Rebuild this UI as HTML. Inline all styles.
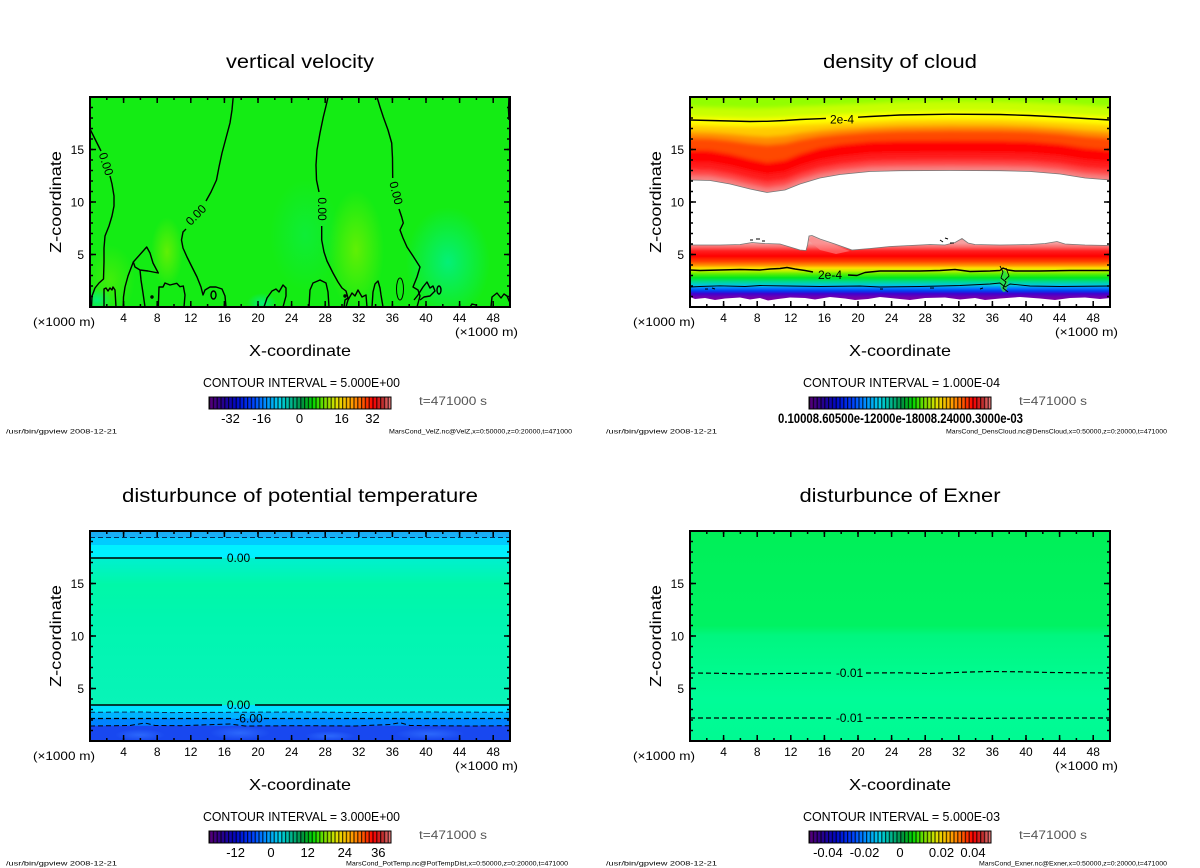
<!DOCTYPE html>
<html><head><meta charset="utf-8"><style>
html,body{margin:0;padding:0;background:#fff;}
svg{display:block;}
text{font-family:"Liberation Sans",sans-serif;fill:#000;}
</style></head><body>
<svg width="1200" height="868" viewBox="0 0 1200 868" xmlns="http://www.w3.org/2000/svg">
<defs>
<linearGradient id="cb" x1="0" x2="1" y1="0" y2="0">
 <stop offset="0" stop-color="#5a0078"/>
 <stop offset="0.07" stop-color="#28008c"/>
 <stop offset="0.15" stop-color="#0008c8"/>
 <stop offset="0.24" stop-color="#0040ff"/>
 <stop offset="0.32" stop-color="#0098ff"/>
 <stop offset="0.39" stop-color="#00d0e8"/>
 <stop offset="0.45" stop-color="#00b890"/>
 <stop offset="0.51" stop-color="#009040"/>
 <stop offset="0.57" stop-color="#00d800"/>
 <stop offset="0.64" stop-color="#80e000"/>
 <stop offset="0.70" stop-color="#e0e000"/>
 <stop offset="0.77" stop-color="#ffb000"/>
 <stop offset="0.84" stop-color="#ff6000"/>
 <stop offset="0.90" stop-color="#ff0000"/>
 <stop offset="0.95" stop-color="#c02828"/>
 <stop offset="1" stop-color="#e88080"/>
</linearGradient>
<pattern id="st" patternUnits="userSpaceOnUse" width="3.8" height="20"><rect width="1.2" height="20" fill="#000" fill-opacity="0.75"/></pattern>
<radialGradient id="gY"><stop offset="0" stop-color="#7af000" stop-opacity="0.75"/><stop offset="1" stop-color="#7af000" stop-opacity="0"/></radialGradient>
<radialGradient id="gC"><stop offset="0" stop-color="#00f090" stop-opacity="0.8"/><stop offset="1" stop-color="#00f090" stop-opacity="0"/></radialGradient>
<radialGradient id="gB"><stop offset="0" stop-color="#3070ff" stop-opacity="0.8"/><stop offset="1" stop-color="#3070ff" stop-opacity="0"/></radialGradient>
<linearGradient id="gLow" gradientUnits="userSpaceOnUse" x1="0" y1="243" x2="0" y2="300">
 <stop offset="0" stop-color="#f5a0a0"/>
 <stop offset="0.07" stop-color="#fa6a6a"/>
 <stop offset="0.14" stop-color="#ff2020"/>
 <stop offset="0.23" stop-color="#ff0000"/>
 <stop offset="0.32" stop-color="#ff4000"/>
 <stop offset="0.39" stop-color="#ff9000"/>
 <stop offset="0.44" stop-color="#ffe000"/>
 <stop offset="0.49" stop-color="#c0f000"/>
 <stop offset="0.54" stop-color="#60f000"/>
 <stop offset="0.61" stop-color="#00e820"/>
 <stop offset="0.68" stop-color="#00d890"/>
 <stop offset="0.74" stop-color="#00c8e0"/>
 <stop offset="0.79" stop-color="#0080ff"/>
 <stop offset="0.84" stop-color="#0040f0"/>
 <stop offset="0.89" stop-color="#4000d0"/>
 <stop offset="0.95" stop-color="#7000b0"/>
 <stop offset="1" stop-color="#8000a0"/>
</linearGradient>
<linearGradient id="gPT" gradientUnits="userSpaceOnUse" x1="0" y1="558" x2="0" y2="705">
 <stop offset="0" stop-color="#00f0d0"/>
 <stop offset="0.18" stop-color="#00f8a8"/>
 <stop offset="0.42" stop-color="#00f6b0"/>
 <stop offset="1" stop-color="#08f4b8"/>
</linearGradient>
<linearGradient id="gEx" gradientUnits="userSpaceOnUse" x1="0" y1="531" x2="0" y2="741">
 <stop offset="0" stop-color="#00f058"/>
 <stop offset="0.45" stop-color="#00f262"/>
 <stop offset="0.5" stop-color="#00f680"/>
 <stop offset="0.67" stop-color="#00fa8e"/>
 <stop offset="0.8" stop-color="#00fc98"/>
 <stop offset="1" stop-color="#00fa92"/>
</linearGradient>
<clipPath id="cp1"><rect x="90" y="97" width="420" height="210"/></clipPath>
<clipPath id="cp2"><rect x="690" y="97" width="420" height="210"/></clipPath>
<clipPath id="cp3"><rect x="90" y="531" width="420" height="210"/></clipPath>
<clipPath id="cp4"><rect x="690" y="531" width="420" height="210"/></clipPath>
<clipPath id="cpTop"><path d="M690,97 L1110,97 L1110,180 L1085,178 L1060,174 L1030,171.5 L1000,170.7 L950,170.5 L900,170.7 L870,171.5 L840,174.5 L820,178 L800,184 L785,190 L767,192.5 L750,189 L730,184 L710,180.5 L690,180 Z"/></clipPath>
<filter id="bl" x="-10%" y="-30%" width="120%" height="160%"><feGaussianBlur stdDeviation="2"/></filter>
</defs>

<!-- ================= PANEL 1 FIELD ================= -->
<g clip-path="url(#cp1)">
<rect x="90" y="97" width="420" height="210" fill="#14ec14"/>
<ellipse cx="356" cy="250" rx="28" ry="60" fill="url(#gY)"/>
<ellipse cx="167" cy="252" rx="16" ry="35" fill="url(#gY)"/>
<ellipse cx="110" cy="280" rx="25" ry="35" fill="url(#gY)" opacity="0.6"/>
<ellipse cx="448" cy="262" rx="42" ry="55" fill="url(#gC)"/>
<ellipse cx="97" cy="300" rx="15" ry="12" fill="url(#gC)"/>
<ellipse cx="262" cy="303" rx="15" ry="10" fill="url(#gC)"/>
<ellipse cx="305" cy="235" rx="35" ry="55" fill="url(#gC)" opacity="0.35"/>
<g fill="none" stroke="#000" stroke-width="1.4" stroke-linejoin="round">
<path d="M90,129 L94,137 L98,145 L101,151"/>
<path d="M110,176 L112,184 L114,196 L114,206 L112,216 L109,226 L105,236 L104,248 L104,262 L103.5,279 L99,283 L95,288 L92,296 L91.5,307"/>
<path d="M233.3,96 L232,110 L230,123 L226,138 L222,153 L219,167 L216.5,180 L211,192 L206,201"/>
<path d="M186,229 L183,232 L181.5,240 L183,248 L187,257 L192,267 L197,277 L201,287 L203,295 L205,290 L210,287 L216,287 L222,289 L225,296 L226,307"/>
<ellipse cx="213.5" cy="295" rx="2.5" ry="4"/>
<path d="M328.3,96 L326,106 L323.3,117 L320,133 L317,150 L316,165 L316.5,180 L319,192"/>
<path d="M321.7,226 L321.7,240 L324,252 L327,261 L333,273 L338,282 L342,288 L346,291 L348,298 L345,300 L344,307"/>
<path d="M376.7,96 L380,107 L383.3,117 L388,130 L391.7,143 L392.5,158 L392.7,178"/>
<path d="M399,209 L401.7,217 L403.3,223 L400,230 L403,238 L407,247 L413,256 L420,267 L417,277 L413,287 L418,290 L420,296 L417,307"/>
<path d="M509,96 L508.5,110 L509,120"/>
<path d="M104,307 L104,289 L106,288 L108,291 L110,288 L112,290 L113,287 L115,290 L116,307"/>
<path d="M133.3,262 L146.7,247 L150,253 L153,263 L158.3,273 L148,271 L140,270 L135,267 Z"/>
<path d="M133.3,262 L128,276 L125,287 L123.5,297 L123.3,307"/>
<path d="M140,270 L141,280 L143,293 L145,307"/>
<path d="M158.3,307 L159,287 L163,287 L165,283 L170,285 L176.7,283.3 L180,286.7 L183.3,286 L185,295 L184,307"/>
<path d="M264,307 L267,298 L272,291 L276,289 L279,292 L283,285 L286,288 L286,296 L283,307"/>
<path d="M309,307 L310,290 L313,283 L320,280 L326,283 L328,292 L329,307"/>
<path d="M346,307 L348,300 L352,293 L355,296 L358,290 L362,297 L366,295 L367,307"/>
<path d="M372,307 L373,292 L375,284 L378,281 L380,288 L381,295 L383,307"/>
<ellipse cx="400" cy="289" rx="3.5" ry="11" stroke-width="1"/>
<path d="M414,300 L418,295 L423,287 L427,282 L430,288 L433,286 L435,291 L430,296 L424,297 L420,300"/>
<ellipse cx="439" cy="290" rx="2" ry="4"/>
<path d="M491,307 L492,297 L497,293 L501,298 L504,294 L507,296 L510,303"/>
<path d="M470,307 L472,304 L476,305 L477,307"/>
<circle cx="152" cy="297" r="1"/>
<circle cx="345" cy="296" r="1"/>
</g>
<g font-size="12" text-anchor="middle">
<text transform="translate(106,164) rotate(72)" y="4">0.00</text>
<text transform="translate(196,215) rotate(-45)" y="4">0.00</text>
<text transform="translate(322,209) rotate(90)" y="4">0.00</text>
<text transform="translate(396,193) rotate(76)" y="4">0.00</text>
</g>
</g>

<!-- ================= PANEL 2 FIELD ================= -->
<g clip-path="url(#cp2)">
<g clip-path="url(#cpTop)">
<g filter="url(#bl)">
<path fill="#f58585" d="M670,80 L1130,80 L1130,184 L1110,184 L1085,182 L1060,178 L1030,175.5 L1000,174.7 L950,174.5 L900,174.7 L870,175.5 L840,178.5 L820,182 L800,188 L785,194 L767,196.5 L750,193 L730,188 L710,184.5 L690,184 L670,184 Z"/>
<path fill="#ff4a4a" d="M670,80 L1130,80 L1130,176 L1110,176 L1085,174 L1060,170 L1030,167.5 L1000,166.7 L950,166.5 L900,166.7 L870,167.5 L840,170.5 L820,174 L800,180 L785,186 L767,188.5 L750,185 L730,180 L710,176.5 L690,176 L670,176 Z"/>
<path fill="#ff1a1a" d="M670,80 L1130,80 L1130,170 L1110,170 L1085,168 L1060,164 L1030,161.5 L1000,160.7 L950,160.5 L900,160.7 L870,161.5 L840,164.5 L820,168 L800,174 L785,180 L767,182.5 L750,179 L730,174 L710,170.5 L690,170 L670,170 Z"/>
<path fill="#ff0000" d="M670,80 L1130,80 L1130,162 L1110,162 L1085,160 L1060,156 L1030,153.5 L1000,152.7 L950,152.5 L900,152.7 L870,153.5 L840,156.5 L820,160 L800,166 L785,172 L767,174.5 L750,171 L730,166 L710,162.5 L690,162 L670,162 Z"/>
<path fill="#ff4800" d="M670,80 L1130,80 L1130,150 L1110,150 L1085,148 L1060,144 L1030,141.5 L1000,140.7 L950,140.5 L900,140.7 L870,141.5 L840,144.5 L820,148 L800,154 L785,160 L767,162.5 L750,159 L730,154 L710,150.5 L690,150 L670,150 Z"/>
<path fill="#ff8c00" d="M670,80 L1130,80 L1130,138 L1110,138 L1085,136.3 L1060,133.5 L1030,131.5 L1000,130.6 L950,130.4 L900,130.9 L870,132 L840,134.2 L820,136.4 L800,139.8 L785,143.3 L767,144.9 L750,143.3 L730,140.5 L710,138.5 L690,138 L670,138 Z"/>
<path fill="#ffcc00" d="M670,80 L1130,80 L1130,132 L1110,132 L1085,130.4 L1060,128.1 L1030,126.3 L1000,125.4 L950,125.1 L900,125.7 L870,127 L840,128.8 L820,130.5 L800,132.9 L785,135.4 L767,136.7 L750,135.8 L730,133.9 L710,132.5 L690,132 L670,132 Z"/>
<path fill="#ffff00" d="M670,80 L1130,80 L1130,125 L1110,125 L1085,123.5 L1060,122 L1030,120.5 L1000,119.5 L950,119.2 L900,120 L870,121.5 L840,122.8 L820,123.7 L800,124.5 L785,125.5 L767,126.3 L750,126.5 L730,126 L710,125.5 L690,125 L670,125 Z"/>
<path fill="#c8ff00" d="M670,80 L1130,80 L1130,117 L1110,117 L1085,115.5 L1060,114 L1030,112.5 L1000,111.5 L950,111.2 L900,112 L870,113.5 L840,114.8 L820,115.7 L800,116.5 L785,117.5 L767,118.3 L750,118.5 L730,118 L710,117.5 L690,117 L670,117 Z"/>
<path fill="#92ff00" d="M670,80 L1130,80 L1130,107 L1110,107 L1085,105.5 L1060,104 L1030,102.5 L1000,101.5 L950,101.2 L900,102 L870,103.5 L840,104.8 L820,105.7 L800,106.5 L785,107.5 L767,108.3 L750,108.5 L730,108 L710,107.5 L690,107 L670,107 Z"/>
</g>
</g>
<path d="M690,180 L710,180.5 L730,184 L750,189 L767,192.5 L785,190 L800,184 L820,178 L840,174.5 L870,171.5 L900,170.7 L950,170.5 L1000,170.7 L1030,171.5 L1060,174 L1085,178 L1110,180" fill="none" stroke="#777" stroke-width="0.8"/>
<g fill="none" stroke="#000" stroke-width="1.4" stroke-linejoin="round">
<path d="M690,120 L710,120.5 L730,121 L750,121.5 L767,121.3 L785,120.5 L800,119.5 L820,118.7 L826,118.4"/>
<path d="M858,117.2 L870,116.5 L900,115 L950,114.2 L1000,114.5 L1030,115.5 L1060,117 L1085,118.5 L1110,120"/>
</g>
<text x="842" y="123.5" font-size="12" text-anchor="middle">2e-4</text>

<path fill="url(#gLow)" d="M690,245 L720,245 L740,244.5 L752,242.5 L765,243.5 L780,244 L790,247 L800,250 L806,250.5 L807.5,245 L809,236 L812,235.5 L820,239 L835,244 L852,250 L870,248.5 L890,246.5 L910,245.5 L930,244.5 L945,245 L955,242.5 L962,238.5 L968,243 L975,244.5 L1000,245 L1030,244.5 L1045,243.5 L1057,241.5 L1065,244 L1085,245 L1110,245.5 L1110,298 L1100,299 L1085,297.5 L1070,298 L1055,300 L1040,298.5 L1020,297 L1000,298.5 L985,300 L975,298 L960,299.5 L945,297.5 L925,298 L910,300 L895,298.5 L880,297 L868,299 L855,300 L845,298.5 L830,297 L815,299.5 L805,298 L790,297.5 L778,299 L768,300.5 L760,298 L750,299.5 L740,297.5 L725,298.5 L715,300 L705,298 L695,299 L690,297 Z"/>
<path d="M808,240 L812,237 L822,241 L836,246 L850,251 L836,254 L820,250 Z" fill="#f88" opacity="0.6"/>
<ellipse cx="1004" cy="281" rx="4" ry="11" fill="#30e040" opacity="0.8"/>
<path d="M690,245 L720,245 L740,244.5 L752,242.5 L765,243.5 L780,244 L790,247 L800,250 L806,250.5 L807.5,245 L809,236 L812,235.5 L820,239 L835,244 L852,250 L870,248.5 L890,246.5 L910,245.5 L930,244.5 L945,245 L955,242.5 L962,238.5 L968,243 L975,244.5 L1000,245 L1030,244.5 L1045,243.5 L1057,241.5 L1065,244 L1085,245 L1110,245.5" fill="none" stroke="#777" stroke-width="0.8"/>
<g fill="none" stroke="#000" stroke-linejoin="round">
<path stroke-width="1.4" d="M690,270 L700,270.5 L720,270 L740,269.5 L760,270 L770,269 L780,268.5 L787,267.5 L795,269 L805,270.5 L813,272"/>
<path stroke-width="1.4" d="M848,275 L857,275.5 L865,272.5 L880,271 L920,271 L940,270.5 L955,269.5 L970,271.5 L990,271 L1000,270.5 L1003,268 L1008,270 L1015,271 L1040,271 L1070,270.5 L1110,270.5"/>
<path stroke-width="0.9" d="M690,287 L700,286.5 L720,285.8 L745,286.5 L760,285.5 L790,286 L820,286.5 L860,286 L880,287 L920,286.5 L960,285.5 L990,284 L1000,283 L1005,287 L1010,284 L1030,286 L1060,286.5 L1110,286"/>
<path stroke-width="0.9" d="M1000,266 L1003,272 L1001,278 L1006,282 L1003,288 L1008,292 M1006,268 L1009,276 L1005,280"/>
<path stroke-width="1" d="M750,240 l3,0 M756,239 l4,0 M762,241 l3,0 M940,240 l3,2 M945,238 l3,1 M950,243 l4,0 M705,289 l3,0 M712,288 l3,1 M880,289 l3,0 M930,288 l4,0 M980,289 l3,-1"/>
</g>
<text x="830" y="279" font-size="12" text-anchor="middle">2e-4</text>
</g>

<!-- ================= PANEL 3 FIELD ================= -->
<g clip-path="url(#cp3)">
<rect x="90" y="531" width="420" height="7" fill="#1aaef5"/>
<rect x="90" y="537.5" width="420" height="8" fill="#00ccff"/>
<rect x="90" y="545" width="420" height="13.5" fill="#00f0ff"/>
<rect x="90" y="558" width="420" height="147.5" fill="url(#gPT)"/>
<rect x="90" y="705" width="420" height="7.5" fill="#00e0ff"/>
<rect x="90" y="712.3" width="420" height="6.5" fill="#00b4ff"/>
<rect x="90" y="718.5" width="420" height="7.5" fill="#0084ff"/>
<rect x="90" y="725.7" width="420" height="16" fill="#1848f0"/>
<ellipse cx="140" cy="735" rx="25" ry="6" fill="url(#gB)"/>
<ellipse cx="240" cy="733" rx="30" ry="7" fill="url(#gB)"/>
<ellipse cx="330" cy="736" rx="25" ry="5" fill="url(#gB)"/>
<ellipse cx="430" cy="734" rx="35" ry="6" fill="url(#gB)"/>
<g fill="none" stroke-linejoin="round">
<line x1="90" y1="537.5" x2="510" y2="537.5" stroke="#06305a" stroke-width="1" stroke-dasharray="5 3"/>
<path d="M90,558 H222 M255,558 H510" stroke="#000" stroke-width="1.5"/>
<path d="M90,705 H222 M255,705 H510" stroke="#000" stroke-width="1.5"/>
<path d="M90,712.3 L140,712 L170,712.6 L230,712.3 L300,712 L360,712.5 L420,712 L510,712.3" stroke="#0a2a50" stroke-width="1" stroke-dasharray="5 3"/>
<path d="M90,718.5 H234 M264,718.5 H510" stroke="#000" stroke-width="1.2" stroke-dasharray="5 3"/>
<path d="M90,726 L130,725.5 L145,723 L155,725.5 L180,725.7 L230,724 L245,726 L300,725.7 L355,726 L390,724.5 L400,722.7 L410,725.5 L470,726 L510,725.7" stroke="#000" stroke-width="1" stroke-dasharray="5 3"/>
</g>
<g font-size="12" text-anchor="middle">
<text x="238.5" y="562">0.00</text>
<text x="238.5" y="709">0.00</text>
<text x="249" y="722.5">-6.00</text>
</g>
</g>

<!-- ================= PANEL 4 FIELD ================= -->
<g clip-path="url(#cp4)">
<rect x="690" y="531" width="420" height="210" fill="url(#gEx)"/>
<g fill="none" stroke="#000" stroke-width="1.2" stroke-dasharray="5 3">
<path d="M690,673 L720,673.3 L750,674 L780,673.5 L833,673 M866,673 L900,672.8 L930,673.5 L960,672.3 L990,671.5 L1020,671.8 L1050,672.5 L1110,673"/>
<path d="M690,718 L780,718 L833,718 M866,718 L920,717.7 L980,718.3 L1040,718 L1110,718"/>
</g>
<g font-size="12" text-anchor="middle">
<text x="849.5" y="677">-0.01</text>
<text x="849.5" y="722">-0.01</text>
</g>
</g>

<!-- ================= CHROME (4 panels) ================= -->
<!-- Panel 1 -->
<g>
<text x="300" y="68" font-size="19.5" text-anchor="middle" textLength="148" lengthAdjust="spacingAndGlyphs">vertical velocity</text>
<g transform="translate(90,97)" fill="none" stroke="#000">
<line x1="0" y1="207" x2="420" y2="207" stroke-width="6" stroke-dasharray="1.5 32.1" stroke-dashoffset="0.75"/>
<line x1="0" y1="3" x2="420" y2="3" stroke-width="6" stroke-dasharray="1.5 32.1" stroke-dashoffset="0.75"/>
<line x1="0" y1="208.5" x2="420" y2="208.5" stroke-width="3" stroke-dasharray="1.5 15.3" stroke-dashoffset="0.75"/>
<line x1="0" y1="1.5" x2="420" y2="1.5" stroke-width="3" stroke-dasharray="1.5 15.3" stroke-dashoffset="0.75"/>
<line x1="3" y1="0" x2="3" y2="210" stroke-width="6" stroke-dasharray="1.5 51" stroke-dashoffset="0.75"/>
<line x1="417" y1="0" x2="417" y2="210" stroke-width="6" stroke-dasharray="1.5 51" stroke-dashoffset="0.75"/>
<line x1="1.5" y1="0" x2="1.5" y2="210" stroke-width="3" stroke-dasharray="1.5 9" stroke-dashoffset="0.75"/>
<line x1="418.5" y1="0" x2="418.5" y2="210" stroke-width="3" stroke-dasharray="1.5 9" stroke-dashoffset="0.75"/>
<rect x="0" y="0" width="420" height="210" stroke-width="2"/>
</g>
<g font-size="12" text-anchor="end"><text x="84" y="153.8">15</text><text x="84" y="206.3">10</text><text x="84" y="258.8">5</text></g>
<g font-size="12" text-anchor="middle">
<text x="123.6" y="322">4</text><text x="157.2" y="322">8</text><text x="190.8" y="322">12</text><text x="224.4" y="322">16</text><text x="258" y="322">20</text><text x="291.6" y="322">24</text><text x="325.2" y="322">28</text><text x="358.8" y="322">32</text><text x="392.4" y="322">36</text><text x="426" y="322">40</text><text x="459.6" y="322">44</text><text x="493.2" y="322">48</text>
</g>
<text x="33" y="326" font-size="12" textLength="62" lengthAdjust="spacingAndGlyphs">(×1000 m)</text>
<text x="455" y="336" font-size="12" textLength="63" lengthAdjust="spacingAndGlyphs">(×1000 m)</text>
<text x="300" y="356" font-size="16" text-anchor="middle" textLength="102" lengthAdjust="spacingAndGlyphs">X-coordinate</text>
<text transform="translate(61,202) rotate(-90)" font-size="16" text-anchor="middle" textLength="102" lengthAdjust="spacingAndGlyphs">Z-coordinate</text>
<text x="301.5" y="387" font-size="12.5" text-anchor="middle" textLength="197" lengthAdjust="spacingAndGlyphs">CONTOUR INTERVAL = 5.000E+00</text>
<rect x="209" y="397" width="182" height="12" fill="url(#cb)"/>
<rect x="209" y="397" width="182" height="12" fill="url(#st)"/>
<rect x="209" y="397" width="182" height="12" fill="none" stroke="#000" stroke-width="1"/>
<text x="419" y="405" font-size="12" style="fill:#555" textLength="68" lengthAdjust="spacingAndGlyphs">t=471000 s</text>
<g font-size="13" text-anchor="middle"><text x="230.5" y="423">-32</text><text x="261.7" y="423">-16</text><text x="299.5" y="423">0</text><text x="341.7" y="423">16</text><text x="372.5" y="423">32</text></g>
<text x="6" y="433.5" font-size="6.5" textLength="111" lengthAdjust="spacingAndGlyphs">/usr/bin/gpview  2008-12-21</text>
<text x="389" y="433.5" font-size="6.5" textLength="183" lengthAdjust="spacingAndGlyphs">MarsCond_VelZ.nc@VelZ,x=0:50000,z=0:20000,t=471000</text>
</g>

<!-- Panel 2 -->
<g transform="translate(600,0)">
<text x="300" y="68" font-size="19.5" text-anchor="middle" textLength="154" lengthAdjust="spacingAndGlyphs">density of cloud</text>
<g transform="translate(90,97)" fill="none" stroke="#000">
<line x1="0" y1="207" x2="420" y2="207" stroke-width="6" stroke-dasharray="1.5 32.1" stroke-dashoffset="0.75"/>
<line x1="0" y1="3" x2="420" y2="3" stroke-width="6" stroke-dasharray="1.5 32.1" stroke-dashoffset="0.75"/>
<line x1="0" y1="208.5" x2="420" y2="208.5" stroke-width="3" stroke-dasharray="1.5 15.3" stroke-dashoffset="0.75"/>
<line x1="0" y1="1.5" x2="420" y2="1.5" stroke-width="3" stroke-dasharray="1.5 15.3" stroke-dashoffset="0.75"/>
<line x1="3" y1="0" x2="3" y2="210" stroke-width="6" stroke-dasharray="1.5 51" stroke-dashoffset="0.75"/>
<line x1="417" y1="0" x2="417" y2="210" stroke-width="6" stroke-dasharray="1.5 51" stroke-dashoffset="0.75"/>
<line x1="1.5" y1="0" x2="1.5" y2="210" stroke-width="3" stroke-dasharray="1.5 9" stroke-dashoffset="0.75"/>
<line x1="418.5" y1="0" x2="418.5" y2="210" stroke-width="3" stroke-dasharray="1.5 9" stroke-dashoffset="0.75"/>
<rect x="0" y="0" width="420" height="210" stroke-width="2"/>
</g>
<g font-size="12" text-anchor="end"><text x="84" y="153.8">15</text><text x="84" y="206.3">10</text><text x="84" y="258.8">5</text></g>
<g font-size="12" text-anchor="middle">
<text x="123.6" y="322">4</text><text x="157.2" y="322">8</text><text x="190.8" y="322">12</text><text x="224.4" y="322">16</text><text x="258" y="322">20</text><text x="291.6" y="322">24</text><text x="325.2" y="322">28</text><text x="358.8" y="322">32</text><text x="392.4" y="322">36</text><text x="426" y="322">40</text><text x="459.6" y="322">44</text><text x="493.2" y="322">48</text>
</g>
<text x="33" y="326" font-size="12" textLength="62" lengthAdjust="spacingAndGlyphs">(×1000 m)</text>
<text x="455" y="336" font-size="12" textLength="63" lengthAdjust="spacingAndGlyphs">(×1000 m)</text>
<text x="300" y="356" font-size="16" text-anchor="middle" textLength="102" lengthAdjust="spacingAndGlyphs">X-coordinate</text>
<text transform="translate(61,202) rotate(-90)" font-size="16" text-anchor="middle" textLength="102" lengthAdjust="spacingAndGlyphs">Z-coordinate</text>
<text x="301.5" y="387" font-size="12.5" text-anchor="middle" textLength="197" lengthAdjust="spacingAndGlyphs">CONTOUR INTERVAL = 1.000E-04</text>
<rect x="209" y="397" width="182" height="12" fill="url(#cb)"/>
<rect x="209" y="397" width="182" height="12" fill="url(#st)"/>
<rect x="209" y="397" width="182" height="12" fill="none" stroke="#000" stroke-width="1"/>
<text x="419" y="405" font-size="12" style="fill:#555" textLength="68" lengthAdjust="spacingAndGlyphs">t=471000 s</text>
<text x="178" y="423" font-size="13.5" font-weight="bold" textLength="245" lengthAdjust="spacingAndGlyphs">0.10008.60500e-12000e-18008.24000.3000e-03</text>
<text x="6" y="433.5" font-size="6.5" textLength="111" lengthAdjust="spacingAndGlyphs">/usr/bin/gpview  2008-12-21</text>
<text x="346" y="433.5" font-size="6.5" textLength="221" lengthAdjust="spacingAndGlyphs">MarsCond_DensCloud.nc@DensCloud,x=0:50000,z=0:20000,t=471000</text>
</g>

<!-- Panel 3 -->
<g transform="translate(0,434)">
<text x="300" y="68" font-size="19.5" text-anchor="middle" textLength="356" lengthAdjust="spacingAndGlyphs">disturbunce of potential temperature</text>
<g transform="translate(90,97)" fill="none" stroke="#000">
<line x1="0" y1="207" x2="420" y2="207" stroke-width="6" stroke-dasharray="1.5 32.1" stroke-dashoffset="0.75"/>
<line x1="0" y1="3" x2="420" y2="3" stroke-width="6" stroke-dasharray="1.5 32.1" stroke-dashoffset="0.75"/>
<line x1="0" y1="208.5" x2="420" y2="208.5" stroke-width="3" stroke-dasharray="1.5 15.3" stroke-dashoffset="0.75"/>
<line x1="0" y1="1.5" x2="420" y2="1.5" stroke-width="3" stroke-dasharray="1.5 15.3" stroke-dashoffset="0.75"/>
<line x1="3" y1="0" x2="3" y2="210" stroke-width="6" stroke-dasharray="1.5 51" stroke-dashoffset="0.75"/>
<line x1="417" y1="0" x2="417" y2="210" stroke-width="6" stroke-dasharray="1.5 51" stroke-dashoffset="0.75"/>
<line x1="1.5" y1="0" x2="1.5" y2="210" stroke-width="3" stroke-dasharray="1.5 9" stroke-dashoffset="0.75"/>
<line x1="418.5" y1="0" x2="418.5" y2="210" stroke-width="3" stroke-dasharray="1.5 9" stroke-dashoffset="0.75"/>
<rect x="0" y="0" width="420" height="210" stroke-width="2"/>
</g>
<g font-size="12" text-anchor="end"><text x="84" y="153.8">15</text><text x="84" y="206.3">10</text><text x="84" y="258.8">5</text></g>
<g font-size="12" text-anchor="middle">
<text x="123.6" y="322">4</text><text x="157.2" y="322">8</text><text x="190.8" y="322">12</text><text x="224.4" y="322">16</text><text x="258" y="322">20</text><text x="291.6" y="322">24</text><text x="325.2" y="322">28</text><text x="358.8" y="322">32</text><text x="392.4" y="322">36</text><text x="426" y="322">40</text><text x="459.6" y="322">44</text><text x="493.2" y="322">48</text>
</g>
<text x="33" y="326" font-size="12" textLength="62" lengthAdjust="spacingAndGlyphs">(×1000 m)</text>
<text x="455" y="336" font-size="12" textLength="63" lengthAdjust="spacingAndGlyphs">(×1000 m)</text>
<text x="300" y="356" font-size="16" text-anchor="middle" textLength="102" lengthAdjust="spacingAndGlyphs">X-coordinate</text>
<text transform="translate(61,202) rotate(-90)" font-size="16" text-anchor="middle" textLength="102" lengthAdjust="spacingAndGlyphs">Z-coordinate</text>
<text x="301.5" y="387" font-size="12.5" text-anchor="middle" textLength="197" lengthAdjust="spacingAndGlyphs">CONTOUR INTERVAL = 3.000E+00</text>
<rect x="209" y="397" width="182" height="12" fill="url(#cb)"/>
<rect x="209" y="397" width="182" height="12" fill="url(#st)"/>
<rect x="209" y="397" width="182" height="12" fill="none" stroke="#000" stroke-width="1"/>
<text x="419" y="405" font-size="12" style="fill:#555" textLength="68" lengthAdjust="spacingAndGlyphs">t=471000 s</text>
<g font-size="13" text-anchor="middle"><text x="235.6" y="423">-12</text><text x="271" y="423">0</text><text x="307.7" y="423">12</text><text x="344.8" y="423">24</text><text x="378.3" y="423">36</text></g>
<text x="6" y="431.5" font-size="6.5" textLength="111" lengthAdjust="spacingAndGlyphs">/usr/bin/gpview  2008-12-21</text>
<text x="346" y="431.5" font-size="6.5" textLength="222" lengthAdjust="spacingAndGlyphs">MarsCond_PotTemp.nc@PotTempDist,x=0:50000,z=0:20000,t=471000</text>
</g>

<!-- Panel 4 -->
<g transform="translate(600,434)">
<text x="300" y="68" font-size="19.5" text-anchor="middle" textLength="201" lengthAdjust="spacingAndGlyphs">disturbunce of Exner</text>
<g transform="translate(90,97)" fill="none" stroke="#000">
<line x1="0" y1="207" x2="420" y2="207" stroke-width="6" stroke-dasharray="1.5 32.1" stroke-dashoffset="0.75"/>
<line x1="0" y1="3" x2="420" y2="3" stroke-width="6" stroke-dasharray="1.5 32.1" stroke-dashoffset="0.75"/>
<line x1="0" y1="208.5" x2="420" y2="208.5" stroke-width="3" stroke-dasharray="1.5 15.3" stroke-dashoffset="0.75"/>
<line x1="0" y1="1.5" x2="420" y2="1.5" stroke-width="3" stroke-dasharray="1.5 15.3" stroke-dashoffset="0.75"/>
<line x1="3" y1="0" x2="3" y2="210" stroke-width="6" stroke-dasharray="1.5 51" stroke-dashoffset="0.75"/>
<line x1="417" y1="0" x2="417" y2="210" stroke-width="6" stroke-dasharray="1.5 51" stroke-dashoffset="0.75"/>
<line x1="1.5" y1="0" x2="1.5" y2="210" stroke-width="3" stroke-dasharray="1.5 9" stroke-dashoffset="0.75"/>
<line x1="418.5" y1="0" x2="418.5" y2="210" stroke-width="3" stroke-dasharray="1.5 9" stroke-dashoffset="0.75"/>
<rect x="0" y="0" width="420" height="210" stroke-width="2"/>
</g>
<g font-size="12" text-anchor="end"><text x="84" y="153.8">15</text><text x="84" y="206.3">10</text><text x="84" y="258.8">5</text></g>
<g font-size="12" text-anchor="middle">
<text x="123.6" y="322">4</text><text x="157.2" y="322">8</text><text x="190.8" y="322">12</text><text x="224.4" y="322">16</text><text x="258" y="322">20</text><text x="291.6" y="322">24</text><text x="325.2" y="322">28</text><text x="358.8" y="322">32</text><text x="392.4" y="322">36</text><text x="426" y="322">40</text><text x="459.6" y="322">44</text><text x="493.2" y="322">48</text>
</g>
<text x="33" y="326" font-size="12" textLength="62" lengthAdjust="spacingAndGlyphs">(×1000 m)</text>
<text x="455" y="336" font-size="12" textLength="63" lengthAdjust="spacingAndGlyphs">(×1000 m)</text>
<text x="300" y="356" font-size="16" text-anchor="middle" textLength="102" lengthAdjust="spacingAndGlyphs">X-coordinate</text>
<text transform="translate(61,202) rotate(-90)" font-size="16" text-anchor="middle" textLength="102" lengthAdjust="spacingAndGlyphs">Z-coordinate</text>
<text x="301.5" y="387" font-size="12.5" text-anchor="middle" textLength="197" lengthAdjust="spacingAndGlyphs">CONTOUR INTERVAL = 5.000E-03</text>
<rect x="209" y="397" width="182" height="12" fill="url(#cb)"/>
<rect x="209" y="397" width="182" height="12" fill="url(#st)"/>
<rect x="209" y="397" width="182" height="12" fill="none" stroke="#000" stroke-width="1"/>
<text x="419" y="405" font-size="12" style="fill:#555" textLength="68" lengthAdjust="spacingAndGlyphs">t=471000 s</text>
<g font-size="13" text-anchor="middle"><text x="227.9" y="423">-0.04</text><text x="264.6" y="423">-0.02</text><text x="300" y="423">0</text><text x="341.5" y="423">0.02</text><text x="373" y="423">0.04</text></g>
<text x="6" y="431.5" font-size="6.5" textLength="111" lengthAdjust="spacingAndGlyphs">/usr/bin/gpview  2008-12-21</text>
<text x="379" y="431.5" font-size="6.5" textLength="188" lengthAdjust="spacingAndGlyphs">MarsCond_Exner.nc@Exner,x=0:50000,z=0:20000,t=471000</text>
</g>
</svg>
</body></html>
